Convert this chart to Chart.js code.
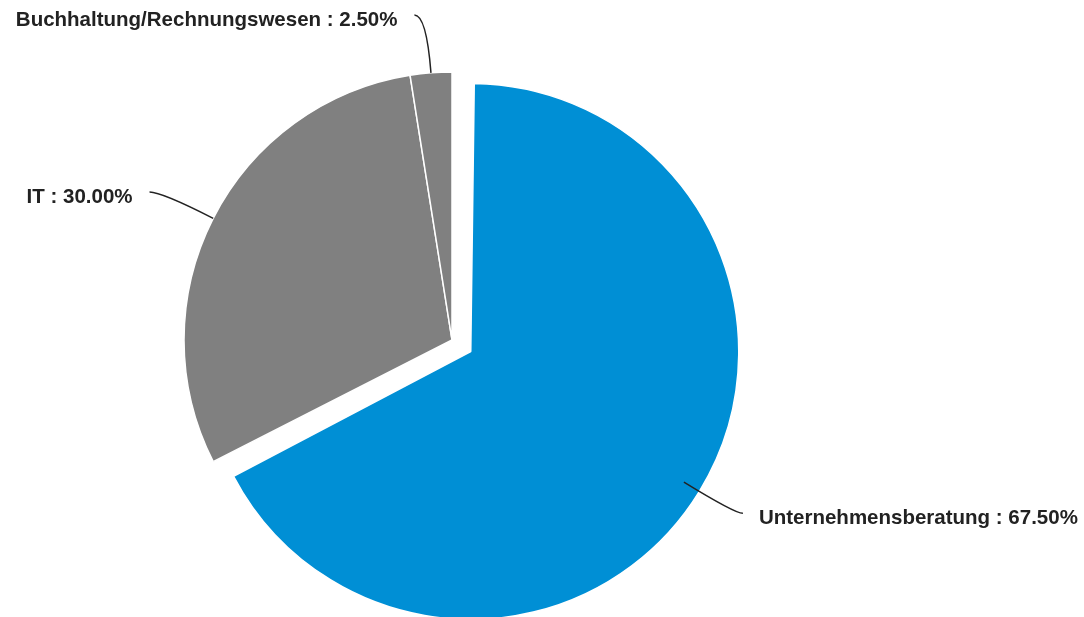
<!DOCTYPE html>
<html>
<head>
<meta charset="utf-8">
<script src="https://cdn.jsdelivr.net/npm/chart.js@4.4.1/dist/chart.umd.min.js"></script>
<style>
html,body{margin:0;padding:0;background:#fff;}
#wrap{width:1084px;height:617px;}
</style>
</head>
<body>
<div id="wrap"><canvas id="c" width="1084" height="617"></canvas></div>
<script>
const categories = ["Unternehmensberatung", "IT", "Buchhaltung/Rechnungswesen"];
const shares = [67.5, 30.0, 2.5];
const colors = ["#008fd5", "#808080", "#808080"];

// Chart.js grows an offset arc's radius by its offset; keep all slices the same size
const keepRadiusPlugin = {
  id: 'keepRadius',
  beforeDatasetsDraw(chart) {
    const meta = chart.getDatasetMeta(0);
    const base = chart._baseRadius;
    meta.data.forEach(arc => {
      const off = (arc.options.offset || 0) / 4;
      arc.outerRadius = base - off;
    });
  },
  afterLayout(chart) { chart._baseRadius = chart.options.datasets && 268; }
};

const leaderPlugin = {
  id: 'leaders',
  afterDatasetsDraw(chart) {
    const ctx = chart.ctx;
    const meta = chart.getDatasetMeta(0);
    const insets = [18, 0, 0];
    meta.data.forEach((arc, i) => {
      const p = arc.getProps(['x','y','startAngle','endAngle','outerRadius'], true);
      const off = (arc.options.offset || 0) / 4;
      const rad = p.outerRadius + off;
      const mid = (p.startAngle + p.endAngle) / 2;
      const dx = Math.cos(mid), dy = Math.sin(mid);
      const cx = p.x + dx * off, cy = p.y + dy * off;
      const r0 = rad - insets[i];
      const ax = cx + dx * r0, ay = cy + dy * r0;
      const R = rad + 58 - insets[i] * 0.9;
      const ex = cx + dx * R;
      const ey = cy + dy * R;
      const right = dx >= 0;
      const endX = ex + (right ? 8 : -12);
      const endY = ey;
      ctx.save();
      ctx.strokeStyle = '#222';
      ctx.lineWidth = 1.5;
      ctx.beginPath();
      ctx.moveTo(ax, ay);
      ctx.quadraticCurveTo(ex, ey, endX, endY);
      ctx.stroke();
      ctx.font = 'bold 20.5px "Liberation Sans", Arial, sans-serif';
      ctx.fillStyle = '#222';
      ctx.textBaseline = 'middle';
      ctx.textAlign = right ? 'left' : 'right';
      const txt = categories[i] + ' : ' + shares[i].toFixed(2) + '%';
      ctx.fillText(txt, endX + (right ? 16 : -17), endY + 5);
      ctx.restore();
    });
  }
};

new Chart(document.getElementById('c'), {
  type: 'pie',
  data: {
    labels: categories,
    datasets: [{
      data: shares,
      backgroundColor: colors,
      borderColor: '#ffffff',
      borderWidth: 1.5,
      offset: [88, 0, 0],
      radius: 268
    }]
  },
  options: {
    responsive: false,
    animation: false,
    layout: { padding: { left: 0, right: 180, top: 63, bottom: 0 } },
    plugins: { legend: { display: false }, tooltip: { enabled: false } }
  },
  plugins: [keepRadiusPlugin, leaderPlugin]
});
</script>
</body>
</html>
